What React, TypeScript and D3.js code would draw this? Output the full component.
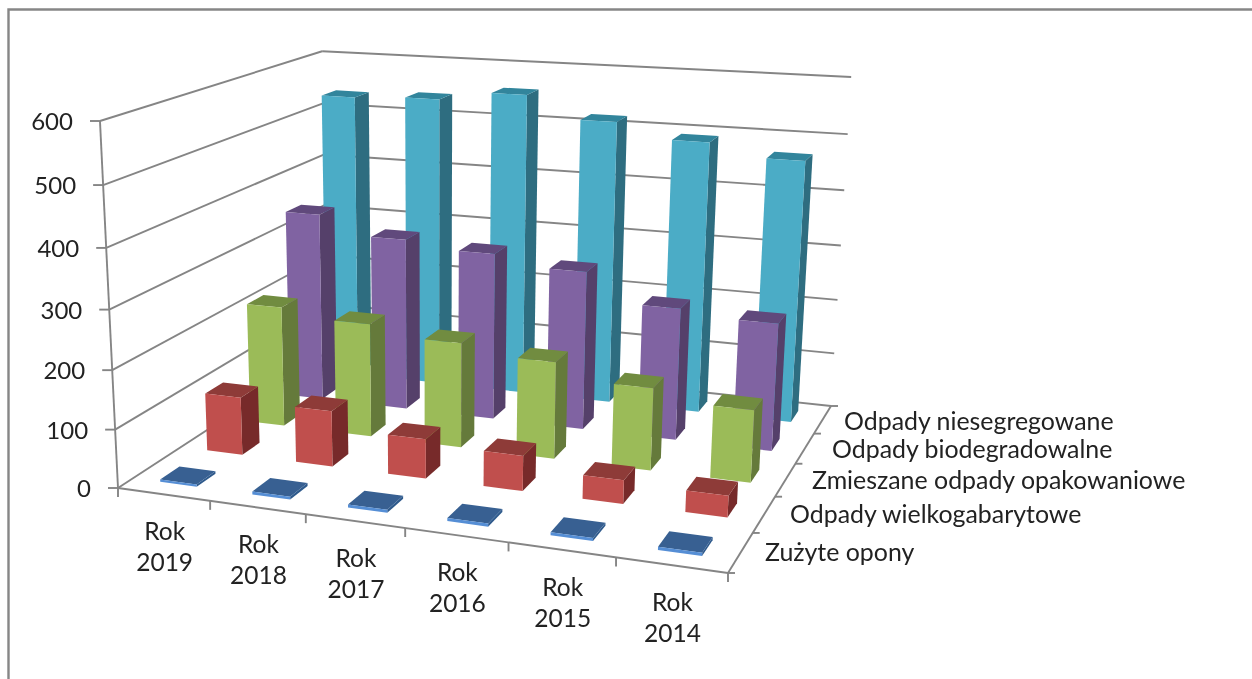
import React from "react";
import * as d3 from "d3";

const W = 1252, H = 679;

const categories = ["2019", "2018", "2017", "2016", "2015", "2014"];
const seriesNames = ["Zużyte opony", "Odpady wielkogabarytowe", "Zmieszane odpady opakowaniowe", "Odpady biodegradowalne", "Odpady niesegregowane"];
const zuzyteOpony = [4, 5, 5, 5, 5, 5];
const wielkogabarytowe = [102, 97, 68, 60, 40, 36];
const opakowaniowe = [217, 203, 186, 170, 143, 124];
const biodegradowalne = [348, 315, 303, 285, 235, 225];
const niesegregowane = [535, 540, 557, 518, 492, 470];
const seriesValues = [zuzyteOpony, wielkogabarytowe, opakowaniowe, biodegradowalne, niesegregowane];
const yTicks = [0, 100, 200, 300, 400, 500, 600];
const faceColors = [
  { front: "#558ED5", top: "#376092", side: "#2F5A8C" },
  { front: "#C0504D", top: "#8E3A37", side: "#772C2A" },
  { front: "#9BBB59", top: "#718C3F", side: "#657A3A" },
  { front: "#8064A2", top: "#604A7B", side: "#553F6B" },
  { front: "#4BACC6", top: "#31859C", side: "#2F6D80" },
];
const labelPos = [
  { x: 765, y: 561 }, { x: 790, y: 523 }, { x: 812, y: 489 }, { x: 832, y: 458 }, { x: 844, y: 430 },
];

// projection calibration: floor corners and vertical vanishing point
const A = [118, 488], B = [728, 573], C = [831, 406], D = [327, 352];
const V = [433, 6900];
const den = (B[0] - C[0]) * (D[1] - C[1]) - (D[0] - C[0]) * (B[1] - C[1]);
const sx = A[0] - B[0] + C[0] - D[0], sy = A[1] - B[1] + C[1] - D[1];
const g = (sx * (D[1] - C[1]) - (D[0] - C[0]) * sy) / den;
const h = ((B[0] - C[0]) * sy - sx * (B[1] - C[1])) / den;
const a = B[0] - A[0] + g * B[0], b = D[0] - A[0] + h * D[0];
const d = B[1] - A[1] + g * B[1], e = D[1] - A[1] + h * D[1];
const k = (488 - 121) / (600 * (121 - V[1]));
function project(u: number, v: number, val: number): [number, number] {
  const w = g * u + h * v + 1 + k * val;
  return [(a * u + b * v + A[0] + k * val * V[0]) / w, (d * u + e * v + A[1] + k * val * V[1]) / w];
}

const uScale = d3.scaleBand<string>().domain(categories).range([0, 1]).paddingInner(0.6).paddingOuter(0.3);
const vScale = d3.scaleBand<string>().domain(seriesNames).range([0, 1]).paddingInner(0.6).paddingOuter(0.3);
const uTick = d3.scaleLinear().domain([0, 6]).range([0, 1]);
const vTick = d3.scaleLinear().domain([0, 5]).range([0, 1]);
const poly = d3.line();
const GRID = "#858585";
const FONT = "Lato, Carlito, sans-serif";

function Bar({ i, s, val }: { i: number; s: number; val: number }) {
  const u0 = uScale(categories[i])!, u1 = u0 + uScale.bandwidth();
  const v0 = vScale(seriesNames[s])!, v1 = v0 + vScale.bandwidth();
  const c = faceColors[s];
  const face = (pts: [number, number, number][]) => poly(pts.map((p) => project(p[0], p[1], p[2])).concat([project(pts[0][0], pts[0][1], pts[0][2])]))!;
  return (
    <g>
      <path d={face([[u1, v0, 0], [u1, v1, 0], [u1, v1, val], [u1, v0, val]])} fill={c.side} />
      <path d={face([[u0, v0, val], [u1, v0, val], [u1, v1, val], [u0, v1, val]])} fill={c.top} />
      <path d={face([[u0, v0, 0], [u1, v0, 0], [u1, v0, val], [u0, v0, val]])} fill={c.front} />
    </g>
  );
}

function L({ p, q, w = 1.9 }: { p: [number, number]; q: [number, number]; w?: number }) {
  return <line x1={p[0]} y1={p[1]} x2={q[0]} y2={q[1]} stroke={GRID} strokeWidth={w} />;
}

export default function App() {
  const order = d3.range(seriesNames.length).reverse();
  return (
    <svg width={W} height={H} viewBox={`0 0 ${W} ${H}`} style={{ position: "absolute", left: 0, top: 0, background: "#fff" }}>
      <defs>
        <filter id="soft" x="-2%" y="-2%" width="104%" height="104%">
          <feGaussianBlur stdDeviation="0.6" />
        </filter>
      </defs>
      <g filter="url(#soft)">
        <path d={`M8.5 679V9.5H1252`} fill="none" stroke="#868686" strokeWidth={2.4} />
        {yTicks.map((t) => (
          <g key={t}>
            <L p={project(0, 0, t)} q={project(0, 1, t)} />
            <L p={project(0, 1, t)} q={project(1, 1, t)} />
            <L p={project(0, 0, t)} q={[project(0, 0, t)[0] - 10, project(0, 0, t)[1]]} />
            <text x={project(0, 0, t)[0] - 27} y={project(0, 0, t)[1] + 9} textAnchor="end" fontFamily={FONT} fontSize={24} fill="#222">{t}</text>
          </g>
        ))}
        <L p={project(0, 0, 0)} q={project(0, 0, 600)} />
        <L p={project(0, 0, 0)} q={project(1, 0, 0)} />
        <L p={project(1, 0, 0)} q={project(1, 1, 0)} />
        {d3.range(7).map((i) => {
          const p = project(uTick(i), 0, 0);
          return <L key={i} p={p} q={[p[0], p[1] + 9]} />;
        })}
        {d3.range(6).map((i) => {
          const p = project(1, vTick(i), 0);
          return <L key={i} p={p} q={[p[0] + 7, p[1]]} />;
        })}
        {order.map((s) => categories.map((_, i) => <Bar key={`${s}-${i}`} i={i} s={s} val={seriesValues[s][i]} />))}
        {categories.map((cat, i) => {
          const p = project(uTick(i + 0.5), 0, 0);
          return (
            <text key={cat} x={p[0] + 1} fontFamily={FONT} fontSize={24.5} fill="#222" textAnchor="middle">
              <tspan x={p[0] + 1} y={p[1] + 46}>Rok</tspan>
              <tspan x={p[0] + 1} y={p[1] + 77}>{cat}</tspan>
            </text>
          );
        })}
        {seriesNames.map((n, s) => (
          <text key={n} x={labelPos[s].x} y={labelPos[s].y} fontFamily={FONT} fontSize={24.9} fill="#222">{n}</text>
        ))}
      </g>
    </svg>
  );
}
